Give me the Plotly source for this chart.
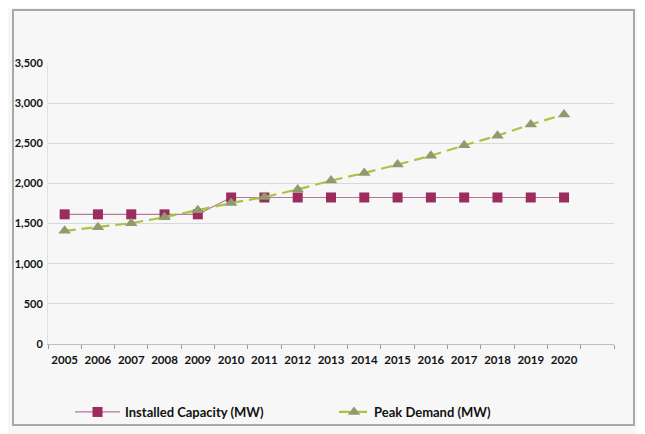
import plotly.graph_objects as go

years = [2005, 2006, 2007, 2008, 2009, 2010, 2011, 2012, 2013, 2014,
         2015, 2016, 2017, 2018, 2019, 2020]
year_labels = [str(y) for y in years]
installed_capacity = [1615, 1615, 1615, 1615, 1615, 1825, 1825, 1825, 1825, 1825,
                      1825, 1825, 1825, 1825, 1825, 1825]
peak_demand = [1410, 1455, 1505, 1580, 1665, 1755, 1830, 1925, 2035, 2130,
               2235, 2345, 2475, 2595, 2735, 2860]
y_ticks = [0, 500, 1000, 1500, 2000, 2500, 3000, 3500]

# The page body has an 8px margin, so the figure sits 8px right/down in the window.
OFF = 8
W, H = 645 - OFF, 434 - OFF
PL, PR, PT, PB = 48 - OFF, 614 - OFF, 63 - OFF, 344 - OFF  # plot area in fig px


def px_x(p):
    return (p - OFF - PL) / (PR - PL)


def px_y(p):
    return (PB - (p - OFF)) / (PB - PT)


FONT = "Lato"
BG = "#F7F7F7"

fig = go.Figure()
fig.add_trace(go.Scatter(
    x=years, y=installed_capacity, name="Installed Capacity (MW)",
    mode="lines+markers",
    line=dict(color="#B27A98", width=1.2),
    marker=dict(symbol="square", size=10, color="#9C2B5E"),
    legend="legend",
))
fig.add_trace(go.Scatter(
    x=years, y=peak_demand, name="Peak Demand (MW)",
    mode="lines+markers",
    line=dict(color="#A9C53D", width=2.2, dash="11px,6px"),
    marker=dict(symbol="triangle-up", size=11, color="#8E9B6E"),
    legend="legend2",
))

fig.update_layout(
    width=W, height=H,
    margin=dict(l=PL, r=W - PR, t=PT, b=H - PB, pad=0, autoexpand=False),
    paper_bgcolor=BG, plot_bgcolor=BG,
    font=dict(family=FONT, size=11, color="#111111"),
    xaxis=dict(
        range=[years[0] - 0.5, years[-1] + 1.5],
        tickvals=years, ticktext=year_labels,
        ticks="", showgrid=False, zeroline=False,
        showline=True, linecolor="#BDBDBD", linewidth=1,
        ticklabelstandoff=5,
        tickfont=dict(family=FONT, size=11.5, weight="bold", color="#111111"),
        minor=dict(ticks="outside", ticklen=4, tickcolor="#9A9A9A",
                   tick0=years[0] - 0.5, dtick=1, showgrid=False),
    ),
    yaxis=dict(
        range=[0, 3500], tickvals=y_ticks, tickformat=",d",
        showgrid=True, gridcolor="#D8D8D8", gridwidth=1, zeroline=False,
        showline=True, linecolor="#E2E2E2", linewidth=1,
        ticks="", ticklabelstandoff=2,
        tickfont=dict(family=FONT, size=11, weight="bold", color="#111111"),
    ),
    legend=dict(
        orientation="h", x=px_x(70), y=px_y(412), xanchor="left", yanchor="middle",
        itemwidth=45, bgcolor="rgba(0,0,0,0)",
        font=dict(family=FONT, size=13, weight="bold", color="#111111"),
    ),
    legend2=dict(
        orientation="h", x=px_x(334), y=px_y(412), xanchor="left", yanchor="middle",
        itemwidth=30, bgcolor="rgba(0,0,0,0)",
        font=dict(family=FONT, size=13, weight="bold", color="#111111"),
    ),
    showlegend=True,
    shapes=[dict(
        type="rect", xref="paper", yref="paper",
        x0=px_x(13), x1=px_x(634), y0=px_y(425), y1=px_y(10),
        line=dict(color="#A8A8A8", width=2), fillcolor="rgba(0,0,0,0)",
        layer="below",
    )],
)

fig.write_html("out.html")
